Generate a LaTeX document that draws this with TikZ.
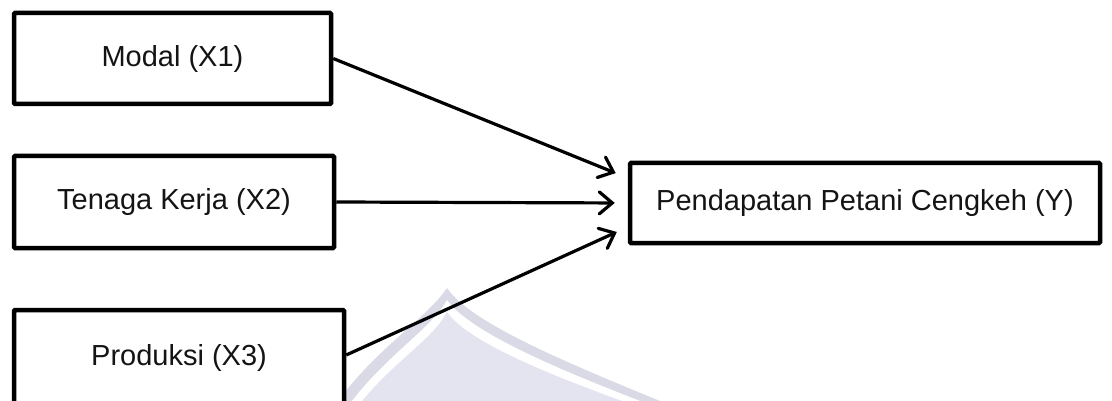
\documentclass[tikz,border=0pt]{standalone}
\usepackage{fontspec}
\setmainfont{Liberation Sans}
\usetikzlibrary{arrows.meta,calc}
\definecolor{markfill}{RGB}{228,228,240}
\definecolor{markedge}{RGB}{218,218,230}
\tikzset{
  varbox/.style={draw=black, line width=4.5pt, rounded corners=1pt, fill=white,
    inner sep=0pt, font=\fontsize{29}{34}\selectfont, text=black!92},
  link/.style={draw=black, line width=3.2pt,
    -{Straight Barb[length=13pt,width=22pt,line width=3.2pt,line cap=round]}}
}
\begin{document}
\begin{tikzpicture}[x=1pt,y=-1pt]
  \useasboundingbox (0,0) rectangle (1112,401);
  \clip (0,0) rectangle (1112,401);
  \fill[white] (0,0) rectangle (1112,401);

  % faint emblem in the background
  \fill[markedge] (338,401) .. controls (380,345) and (425,320) .. (447,288)
      .. controls (470,322) and (560,360) .. (660,401) -- cycle;
  \fill[white] (352,401) .. controls (390,352) and (430,330) .. (447,300)
      .. controls (470,332) and (555,368) .. (640,401) -- cycle;
  \fill[markfill] (362,401) .. controls (398,358) and (432,340) .. (447,312)
      .. controls (468,342) and (548,374) .. (622,401) -- cycle;

  % variables
  \node[varbox, minimum width=317pt, minimum height=91pt] (x1) at (172.5,58.5) {Modal (X1)};
  \node[varbox, minimum width=320pt, minimum height=92pt] (x2) at (174,202) {Tenaga Kerja (X2)};
  \node[varbox, minimum width=330pt, minimum height=96pt] (x3) at (179,358) {Produksi (X3)};
  \node[varbox, minimum width=470pt, minimum height=80pt] (y) at (865,203) {Pendapatan Petani Cengkeh (Y)};

  % influences on farmer income
  \draw[link, shorten >=13pt] (x1.east) -- ([yshift=25pt]y.west);
  \draw[link, shorten >=13pt] (x2.east) -- (y.west);
  \draw[link, shorten >=12pt] ([yshift=3pt]x3.east) -- ([yshift=-24pt]y.west);
\end{tikzpicture}
\end{document}
